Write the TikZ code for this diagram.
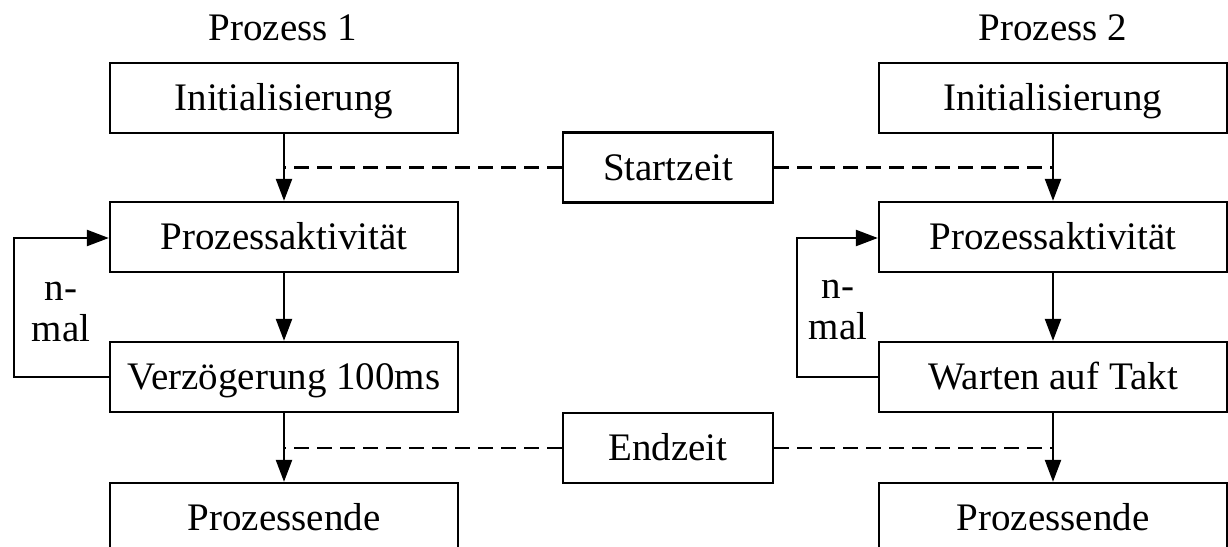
\documentclass[tikz,border=0pt]{standalone}
\usepackage{fontspec}
\setmainfont{Liberation Serif}
\usetikzlibrary{arrows.meta}

\tikzset{
  every picture/.style={x=1pt,y=-1pt},
  box/.style={draw, line width=2.3pt, minimum width=348pt, minimum height=70pt,
    inner sep=0pt, text height=35pt, text depth=9.5pt},
  timebox/.style={box, minimum width=210pt},
  flow/.style={line width=2.3pt, -{Triangle[length=22pt,width=16pt]}},
  sync/.style={line width=2.3pt, dash pattern=on 15pt off 8pt},
}

\begin{document}
\begin{tikzpicture}[font=\fontsize{39}{41}\selectfont]
  \useasboundingbox (0,0) rectangle (1228,546);

  % column headers
  \node[anchor=base] (h1) at (283,40) {Prozess 1};
  \node[anchor=base] (h2) at (1053,40) {Prozess 2};

  % process 1
  \node[box] (a1) at (284,98)  {Initialisierung};
  \node[box] (a2) at (284,237) {Prozessaktivität};
  \node[box] (a3) at (284,377) {Verzögerung 100ms};
  \node[box] (a4) at (284,518) {Prozessende};

  % process 2
  \node[box] (b1) at (1053,98)  {Initialisierung};
  \node[box] (b2) at (1053,237) {Prozessaktivität};
  \node[box] (b3) at (1053,377) {Warten auf Takt};
  \node[box] (b4) at (1053,518) {Prozessende};

  % synchronisation points
  \node[timebox] (st) at (668,167.5) {Startzeit};
  \node[timebox] (et) at (668,448)   {Endzeit};

  % main flow
  \foreach \p in {a,b}{
    \draw[flow] (\p1) -- (\p2);
    \draw[flow] (\p2) -- (\p3);
    \draw[flow] (\p3) -- (\p4);
  }

  % dashed links to the shared times
  \draw[sync] (st.west) -- (st.west -| a1);
  \draw[sync] (st.east) -- (st.east -| b1);
  \draw[sync] (et.west) -- (et.west -| a3);
  \draw[sync] (et.east) -- (et.east -| b3);

  % repeat loops
  \coordinate (la) at (14,0);
  \coordinate (lb) at (797,0);
  \draw[flow] (a3.west) -- (a3.west -| la) |- ([yshift=-1pt]a2.west);
  \draw[flow] (b3.west) -- (b3.west -| lb) |- ([yshift=-1pt]b2.west);

  \node[align=center, inner sep=0pt] (na) at (61,312) {n-\\mal};
  \node[align=center, inner sep=0pt] (nb) at (838,310) {n-\\mal};
\end{tikzpicture}
\end{document}
